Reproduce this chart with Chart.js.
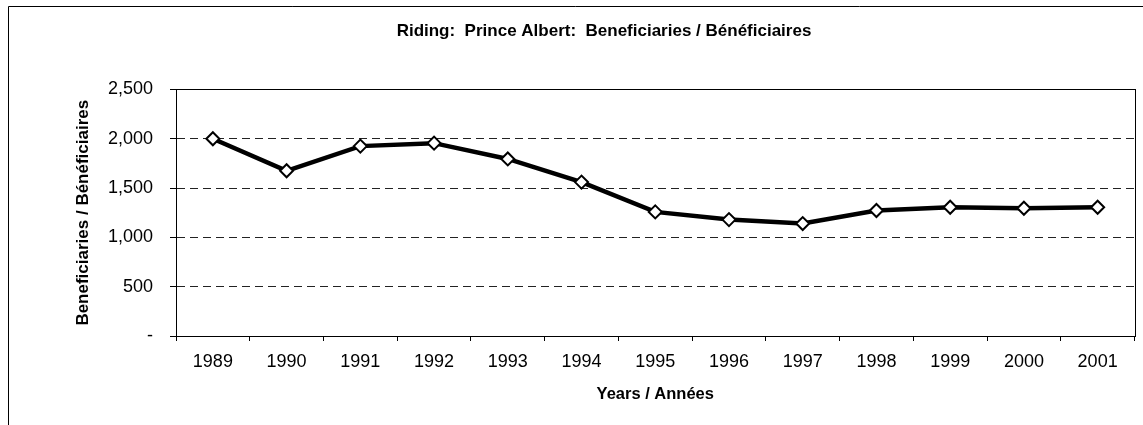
<!DOCTYPE html>
<html>
<head>
<meta charset="utf-8">
<script src="https://cdn.jsdelivr.net/npm/chart.js@4/dist/chart.umd.min.js"></script>
<style>
  html, body { margin: 0; padding: 0; background: #fff; }
  #wrap { width: 1143px; height: 425px; position: relative; }
</style>
</head>
<body>
<div id="wrap"><canvas id="grafico" width="1143" height="425"></canvas></div>
<script>
// Dados
const anos = ['1989', '1990', '1991', '1992', '1993', '1994', '1995', '1996', '1997', '1998', '1999', '2000', '2001'];
const beneficiarios = [2000, 1675, 1925, 1955, 1795, 1560, 1258, 1180, 1140, 1272, 1305, 1295, 1305];
const ticksY = [0, 500, 1000, 1500, 2000, 2500];

const fonteTitulo = "'Liberation Sans', Arial, sans-serif";
const fonteTicks = "'Liberation Sans', Arial, sans-serif";

// Moldura externa + borda da área do gráfico
const molduraPlugin = {
    id: 'moldura',
    beforeDraw(chart) {
        const ctx = chart.ctx;
        ctx.save();
        ctx.fillStyle = '#fff';
        ctx.fillRect(0, 0, chart.width, chart.height);
        ctx.strokeStyle = '#000';
        ctx.lineWidth = 1;
        ctx.beginPath();
        ctx.moveTo(8.5, chart.height);
        ctx.lineTo(8.5, 6.5);
        ctx.lineTo(chart.width, 6.5);
        ctx.stroke();
        ctx.restore();
    },
    beforeDatasetsDraw(chart) {
        const { ctx, chartArea } = chart;
        ctx.save();
        ctx.strokeStyle = '#000';
        ctx.lineWidth = 1;
        ctx.strokeRect(Math.round(chartArea.left) + 0.5, Math.round(chartArea.top) + 0.5,
            Math.round(chartArea.right - chartArea.left), Math.round(chartArea.bottom - chartArea.top));
        ctx.restore();
    }
};

new Chart(document.getElementById('grafico').getContext('2d'), {
    type: 'line',
    data: {
        labels: anos,
        datasets: [{
            label: 'Beneficiaries / Bénéficiaires',
            data: beneficiarios,
            borderColor: '#000',
            borderWidth: 4.5,
            pointStyle: 'rectRot',
            pointRadius: 6.5,
            pointBackgroundColor: '#fff',
            pointBorderColor: '#000',
            pointBorderWidth: 2,
            tension: 0,
            fill: false
        }]
    },
    options: {
        responsive: false,
        animation: false,
        layout: { padding: { left: 72, right: 7, top: 0, bottom: 0 } },
        plugins: {
            legend: { display: false },
            tooltip: { enabled: false },
            title: {
                display: true,
                text: 'Riding:  Prince Albert:  Beneficiaries / Bénéficiaires',
                color: '#000',
                font: { family: fonteTitulo, size: 17, weight: 'bold' },
                padding: { top: 21, bottom: 48 }
            }
        },
        scales: {
            x: {
                offset: true,
                grid: { offset: true, drawOnChartArea: false, tickLength: 5, color: '#000' },
                border: { color: '#000' },
                ticks: { color: '#000', font: { family: fonteTicks, size: 18 }, padding: 10, maxRotation: 0 },
                title: {
                    display: true,
                    text: 'Years / Années',
                    color: '#000',
                    font: { family: fonteTitulo, size: 16.5, weight: 'bold' },
                    padding: { top: 0, bottom: 21 }
                },
                afterFit(scale) { scale.height = 89; }
            },
            y: {
                min: 0,
                max: 2500,
                afterBuildTicks(scale) { scale.ticks = ticksY.map(v => ({ value: v })); },
                grid: { color: '#222', tickLength: 6, tickColor: '#000' },
                border: { color: '#000', dash: [8, 5] },
                ticks: {
                    color: '#000',
                    font: { family: fonteTicks, size: 18 },
                    padding: 17,
                    callback: v => v === 0 ? '-' : v.toLocaleString('en-US')
                },
                title: {
                    display: true,
                    text: 'Beneficiaries / Bénéficiaires',
                    color: '#000',
                    font: { family: fonteTitulo, size: 17, weight: 'bold' },
                    padding: { top: 1, bottom: 0 }
                },
                afterFit(scale) { scale.width = 104; }
            }
        }
    },
    plugins: [molduraPlugin]
});
</script>
</body>
</html>
